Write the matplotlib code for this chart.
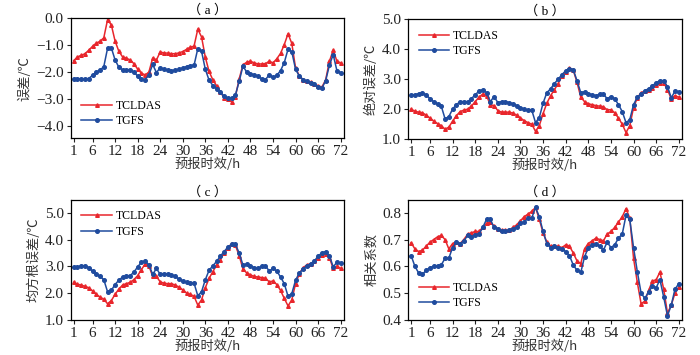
import matplotlib
matplotlib.use('Agg')
import matplotlib.pyplot as plt
import numpy as np

plt.rcParams['font.family'] = ['Liberation Serif', 'Noto Sans CJK SC']
plt.rcParams['axes.unicode_minus'] = True

hours = np.arange(1, 73)
xticks = [1, 6, 12, 18, 24, 30, 36, 42, 48, 54, 60, 66, 72]

# (a) 误差
bias_tcldas = [-1.58, -1.44, -1.38, -1.32, -1.19, -1.05, -0.93, -0.86, -0.73, -0.06,
               -0.25, -0.85, -1.23, -1.44, -1.49, -1.55, -1.69, -1.89, -2.04, -2.11,
               -2.00, -1.48, -1.55, -1.26, -1.29, -1.30, -1.32, -1.32, -1.29, -1.24,
               -1.16, -1.08, -1.04, -0.41, -0.70, -1.45, -1.98, -2.29, -2.51, -2.75,
               -2.95, -3.01, -3.11, -2.91, -2.26, -1.73, -1.64, -1.60, -1.66, -1.70,
               -1.70, -1.69, -1.60, -1.66, -1.51, -1.31, -0.98, -0.58, -0.94, -1.85,
               -2.14, -2.29, -2.35, -2.38, -2.44, -2.51, -2.56, -2.29, -1.60, -1.19,
               -1.60, -1.66]
bias_tgfs = [-2.25, -2.24, -2.27, -2.27, -2.24, -2.12, -2.00, -1.93, -1.80, -1.12,
             -1.10, -1.55, -1.82, -1.92, -1.92, -1.92, -2.00, -2.15, -2.27, -2.28,
             -2.10, -1.72, -2.02, -1.84, -1.90, -1.93, -1.95, -1.93, -1.90, -1.85,
             -1.80, -1.76, -1.75, -1.13, -1.23, -1.90, -2.30, -2.50, -2.62, -2.75,
             -2.90, -2.98, -2.98, -2.85, -2.35, -1.78, -2.00, -2.07, -2.10, -2.15,
             -2.25, -2.28, -2.10, -2.20, -2.12, -1.95, -1.65, -1.15, -1.25, -1.90,
             -2.15, -2.28, -2.35, -2.40, -2.45, -2.55, -2.60, -2.32, -1.75, -1.35,
             -1.95, -2.02]

# (b) 绝对误差
mae_tcldas = [2.00, 1.93, 1.90, 1.88, 1.80, 1.70, 1.60, 1.52, 1.45, 1.33,
              1.40, 1.60, 1.78, 1.92, 1.97, 2.00, 2.10, 2.25, 2.40, 2.50,
              2.45, 2.15, 2.12, 1.95, 1.90, 1.90, 1.90, 1.87, 1.80, 1.70,
              1.62, 1.55, 1.50, 1.26, 1.45, 1.85, 2.20, 2.45, 2.65, 2.85,
              3.10, 3.25, 3.38, 3.30, 2.90, 2.40, 2.25, 2.18, 2.15, 2.12,
              2.10, 2.08, 1.98, 1.98, 1.88, 1.70, 1.50, 1.22, 1.45, 2.05,
              2.38, 2.55, 2.60, 2.65, 2.72, 2.80, 2.88, 2.88, 2.65, 2.35,
              2.45, 2.40]
mae_tgfs = [2.48, 2.48, 2.52, 2.53, 2.48, 2.35, 2.25, 2.18, 2.10, 1.68,
            1.75, 2.00, 2.15, 2.25, 2.25, 2.25, 2.35, 2.48, 2.60, 2.65,
            2.55, 2.25, 2.42, 2.22, 2.25, 2.25, 2.22, 2.18, 2.12, 2.05,
            2.00, 1.97, 1.97, 1.55, 1.72, 2.20, 2.55, 2.68, 2.85, 3.00,
            3.15, 3.28, 3.35, 3.32, 2.95, 2.55, 2.58, 2.52, 2.48, 2.45,
            2.50, 2.50, 2.35, 2.42, 2.35, 2.15, 1.92, 1.55, 1.65, 2.15,
            2.40, 2.50, 2.62, 2.68, 2.78, 2.88, 2.95, 2.95, 2.75, 2.38,
            2.60, 2.58]

# (c) 均方根误差
rmse_tcldas = [2.40, 2.33, 2.30, 2.25, 2.20, 2.08, 1.95, 1.85, 1.77, 1.60,
               1.72, 1.95, 2.15, 2.30, 2.35, 2.40, 2.50, 2.65, 2.88, 3.08,
               3.02, 2.62, 2.62, 2.42, 2.37, 2.35, 2.35, 2.30, 2.22, 2.12,
               2.00, 1.95, 1.88, 1.55, 1.75, 2.20, 2.55, 2.80, 3.05, 3.25,
               3.50, 3.68, 3.85, 3.78, 3.40, 2.90, 2.75, 2.68, 2.62, 2.60,
               2.58, 2.55, 2.42, 2.45, 2.32, 2.10, 1.80, 1.52, 1.75, 2.35,
               2.72, 2.95, 3.05, 3.10, 3.18, 3.30, 3.42, 3.45, 3.32, 2.92,
               3.00, 2.92]
rmse_tgfs = [2.97, 2.97, 3.02, 3.02, 2.95, 2.82, 2.70, 2.62, 2.50, 2.05,
             2.10, 2.32, 2.48, 2.60, 2.62, 2.65, 2.78, 2.98, 3.15, 3.20,
             3.05, 2.70, 2.92, 2.70, 2.72, 2.72, 2.68, 2.62, 2.52, 2.45,
             2.40, 2.37, 2.37, 1.90, 2.05, 2.50, 2.85, 3.02, 3.18, 3.38,
             3.55, 3.72, 3.82, 3.82, 3.50, 3.05, 3.08, 3.02, 2.95, 2.92,
             3.00, 3.02, 2.82, 2.92, 2.82, 2.60, 2.35, 1.88, 1.98, 2.48,
             2.75, 2.90, 3.02, 3.10, 3.20, 3.38, 3.50, 3.55, 3.40, 2.98,
             3.15, 3.12]

# (d) 相关系数
corr_tcldas = [0.688, 0.665, 0.655, 0.660, 0.675, 0.690, 0.700, 0.710, 0.715, 0.700,
               0.665, 0.685, 0.690, 0.685, 0.700, 0.720, 0.725, 0.730, 0.730, 0.745,
               0.760, 0.765, 0.750, 0.740, 0.735, 0.735, 0.735, 0.745, 0.755, 0.770,
               0.785, 0.795, 0.805, 0.820, 0.775, 0.725, 0.690, 0.675, 0.675, 0.675,
               0.670, 0.680, 0.675, 0.650, 0.620, 0.610, 0.665, 0.685, 0.695, 0.705,
               0.700, 0.695, 0.720, 0.730, 0.745, 0.765, 0.785, 0.815, 0.780, 0.630,
               0.540, 0.460, 0.470, 0.510, 0.545, 0.550, 0.578, 0.515, 0.425, 0.455,
               0.500, 0.522]
corr_tgfs = [0.640, 0.600, 0.575, 0.570, 0.585, 0.595, 0.600, 0.600, 0.605, 0.630,
             0.630, 0.670, 0.690, 0.685, 0.695, 0.715, 0.710, 0.718, 0.720, 0.745,
             0.775, 0.775, 0.745, 0.740, 0.730, 0.730, 0.735, 0.740, 0.745, 0.760,
             0.765, 0.780, 0.780, 0.820, 0.785, 0.730, 0.685, 0.670, 0.675, 0.670,
             0.665, 0.655, 0.640, 0.605, 0.585, 0.577, 0.635, 0.670, 0.680, 0.685,
             0.675, 0.660, 0.690, 0.670, 0.680, 0.705, 0.720, 0.790, 0.775, 0.670,
             0.580, 0.500, 0.480, 0.505, 0.525, 0.520, 0.550, 0.485, 0.415, 0.455,
             0.515, 0.535]

red = '#e8262c'
blue = '#1f4b9e'
cjk = ['Noto Sans CJK SC', 'DejaVu Sans']
serif_cjk = ['Liberation Serif', 'Noto Sans CJK SC']

fig = plt.figure(figsize=(7.0, 3.55), dpi=100)

panels = [
    ([0.101, 0.611, 0.390, 0.338], bias_tcldas, bias_tgfs, '（ a ）', '误差/℃',
     (-4.45, 0.0), [0.0, -1.0, -2.0, -3.0, -4.0], 'lower left'),
    ([0.583, 0.608, 0.391, 0.338], mae_tcldas, mae_tgfs, '（ b ）', '绝对误差/℃',
     (1.0, 5.0), [1.0, 2.0, 3.0, 4.0, 5.0], 'upper left'),
    ([0.101, 0.099, 0.390, 0.338], rmse_tcldas, rmse_tgfs, '（ c ）', '均方根误差/℃',
     (1.0, 5.48), [1.0, 2.0, 3.0, 4.0, 5.0], 'upper left'),
    ([0.583, 0.099, 0.391, 0.338], corr_tcldas, corr_tgfs, '（ d ）', '相关系数',
     (0.4, 0.848), [0.4, 0.5, 0.6, 0.7, 0.8], 'lower left'),
]

for rect, s1, s2, title, ylab, ylim, yticks, loc in panels:
    ax = fig.add_axes(rect)
    ax.plot(hours, s1, color=red, lw=1.1, marker='^', ms=2.6, label='TCLDAS')
    ax.plot(hours, s2, color=blue, lw=1.1, marker='o', ms=2.6, label='TGFS')
    ax.set_xlim(0.2, 72.8)
    ax.set_ylim(*ylim)
    ax.set_xticks(xticks)
    ax.set_yticks(yticks)
    ax.set_yticklabels(['{:.1f}'.format(v).replace('-', '\u2212') for v in yticks])
    ax.tick_params(labelsize=11, length=3, width=0.8, pad=2, colors='#222222')
    ax.set_xlabel('预报时效/h', family=cjk, fontsize=9.5, labelpad=0, color='#333333')
    ax.set_ylabel(ylab, family=cjk, fontsize=9.5, labelpad=3, color='#333333')
    ax.set_title(title, family=serif_cjk, fontsize=9.5, pad=3)
    for sp in ax.spines.values():
        sp.set_linewidth(0.9)
    ax.legend(loc=loc, frameon=False, fontsize=8.5, handlelength=2.6,
              handletextpad=0.3, labelspacing=0.3, borderaxespad=0.5)

fig.savefig('out.png', dpi=100)
